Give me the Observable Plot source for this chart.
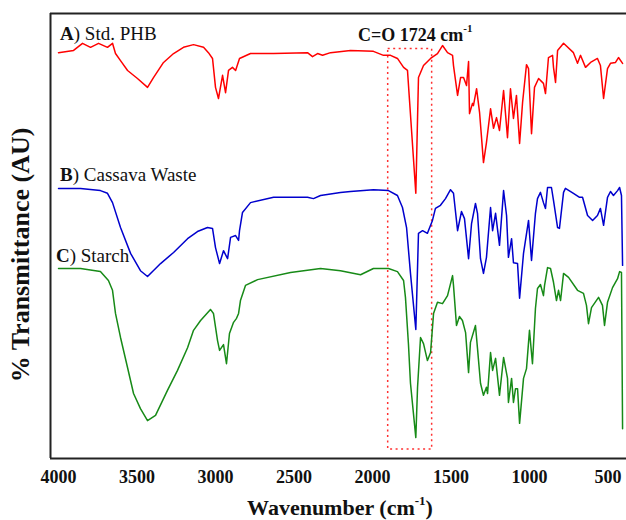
<!DOCTYPE html>
<html><head><meta charset="utf-8">
<script src="https://cdn.jsdelivr.net/npm/d3@7"></script>
<script src="https://cdn.jsdelivr.net/npm/@observablehq/plot@0.6"></script>
<style>body{margin:0;background:#fff;} #chart svg{display:block;background:#fff;}</style>
</head><body><div id="chart"></div>
<script>
// A) Std. PHB
const wnA = [4000,3904,3847,3796,3745,3688,3656,3637,3605,3560,3497,3433,3395,3331,3267,3204,3140,3076,3045,3019,3000,2981,2955,2936,2917,2892,2872,2847,2777,2630,2414,2382,2350,2318,2267,2140,1994,1930,1885,1841,1802,1777,1764,1724,1707,1675,1630,1586,1554,1522,1490,1484,1458,1439,1420,1401,1388,1382,1363,1357,1337,1318,1293,1274,1248,1229,1210,1191,1165,1140,1121,1102,1083,1063,1044,1019,1006,987,968,942,911,898,879,853,847,834,821,783,720,694,675,643,611,567,548,528,503,484,452,433,407];
const tA  = [91.2,91.7,93.3,92.4,93.3,92.4,93.3,91.0,89.4,87.2,85.4,83.4,85.6,89.0,91.0,92.4,93.0,92.4,91.2,89.9,83.4,80.9,86.1,82.2,87.2,87.9,87.2,89.9,91.0,91.0,91.2,90.3,91.0,90.6,91.2,91.7,91.5,90.6,90.6,89.9,87.9,87.2,80.4,59.6,85.6,88.3,89.9,91.0,92.8,91.2,90.6,88.3,81.6,85.6,85.6,83.8,89.2,77.5,79.8,79.3,83.1,77.8,66.5,71.0,78.6,74.2,76.6,73.7,82.7,72.1,83.1,76.4,81.6,70.8,80.0,88.5,87.6,73.0,83.4,85.4,84.3,82.0,90.1,90.6,87.9,84.5,91.7,93.3,91.2,88.8,90.6,87.9,89.0,89.9,88.3,80.9,87.6,88.8,89.0,90.1,88.8];
// B) Cassava Waste
const wnB = [4000,3860,3733,3688,3656,3605,3541,3478,3433,3350,3267,3178,3115,3051,3019,3000,2974,2949,2923,2904,2872,2853,2847,2828,2777,2630,2414,2376,2331,2204,2140,1994,1898,1841,1809,1783,1758,1724,1707,1681,1650,1618,1599,1567,1535,1503,1484,1458,1433,1414,1388,1369,1344,1331,1312,1293,1274,1248,1235,1216,1191,1165,1146,1134,1114,1102,1076,1063,1038,1006,987,962,949,930,911,898,885,860,847,821,809,783,771,720,681,662,630,598,567,548,528,503,484,465,439,426,414,407];
const tB  = [60.7,60.7,60.2,59.6,57.5,51.9,46.1,42.2,40.9,43.8,46.3,49.4,51.0,51.9,51.7,47.4,43.8,46.7,44.9,49.7,50.1,49.0,51.2,55.3,57.5,58.7,58.7,58.4,59.1,59.8,60.0,60.4,60.2,59.1,56.4,51.9,41.6,29.0,50.6,51.2,50.6,53.5,56.2,56.9,58.4,60.4,59.6,51.2,55.5,53.9,44.9,52.8,57.3,55.1,44.9,41.6,45.2,56.4,51.2,55.1,47.9,60.2,54.6,45.2,49.4,44.0,43.8,36.0,46.1,53.5,44.5,55.1,58.4,59.8,57.5,56.2,60.9,60.9,58.0,51.9,51.7,59.8,60.7,59.6,58.7,58.7,54.6,53.5,54.6,56.2,52.4,58.7,60.0,59.1,60.2,60.9,59.1,43.4];
// C) Starch
const wnC = [4000,3860,3733,3682,3656,3637,3605,3560,3522,3478,3433,3382,3306,3242,3178,3140,3095,3032,3013,2987,2974,2949,2930,2911,2885,2866,2853,2841,2809,2732,2522,2331,2204,2076,1994,1898,1841,1802,1790,1771,1758,1724,1713,1694,1675,1650,1630,1611,1586,1554,1522,1490,1484,1465,1446,1427,1407,1388,1376,1344,1331,1312,1293,1274,1267,1248,1235,1216,1191,1165,1140,1134,1114,1102,1089,1076,1063,1038,1019,1000,981,962,949,930,911,904,885,866,847,828,815,802,783,751,694,656,637,624,605,560,535,522,503,471,439,426,414,407];
const tC  = [42.7,42.7,42.0,40.0,37.8,32.6,27.2,20.4,14.6,11.2,8.5,9.7,15.3,19.8,24.9,28.8,31.0,33.5,32.6,26.5,24.3,25.6,21.3,28.1,30.6,31.5,32.6,35.5,38.9,40.2,41.8,42.7,42.2,41.3,42.7,42.7,42.0,40.0,36.2,25.8,16.9,4.7,16.0,27.2,25.8,22.0,23.8,32.6,35.1,34.8,36.6,41.1,38.9,29.9,31.9,31.0,28.3,19.3,26.1,29.9,24.7,16.9,14.2,16.0,14.6,23.8,19.8,22.5,14.2,22.7,18.0,12.6,18.0,12.6,15.7,15.7,7.9,18.0,20.2,28.8,21.3,33.7,38.2,39.1,36.6,38.9,42.9,42.7,39.6,35.5,37.8,35.5,41.6,40.7,37.8,37.1,34.4,30.3,33.9,36.2,34.4,29.9,35.1,38.4,40.4,42.0,41.8,6.7];

const seriesNames = ["A", "B", "C"];
const seriesLabels = ["Std. PHB", "Cassava Waste", "Starch"];
const seriesColors = ["#ff0000", "#0000cd", "#178a17"];
const labelWn = [3987, 3987, 4013];
const labelT = [93.9, 62.2, 44.0];

const tickValues = [4000, 3500, 3000, 2500, 2000, 1500, 1000, 500];
const xDomain = [4051, 382];
const yDomain = [0, 100];

const boxWn = [1900, 1620];
const boxT = [2, 92];
const peakWn = 2089, peakT = 93.7;

const rows = [];
[[wnA, tA], [wnB, tB], [wnC, tC]].forEach(([w, t], k) => {
  w.forEach((v, i) => rows.push({series: seriesNames[k], wn: v, t: t[i]}));
});

const serif = "'Liberation Serif', 'Times New Roman', serif";

const plot = Plot.plot({
  width: 626, height: 520,
  marginLeft: 50, marginRight: 0, marginTop: 13, marginBottom: 62,
  style: {fontFamily: serif, background: "#fff"},
  x: {domain: xDomain},
  y: {domain: yDomain, axis: null},
  color: {domain: seriesNames, range: seriesColors},
  marks: [
    Plot.rect([{x1: boxWn[0], x2: boxWn[1], y1: boxT[0], y2: boxT[1]}],
      {x1: "x1", x2: "x2", y1: "y1", y2: "y2", fill: "none", stroke: "#ff3030", strokeWidth: 1.5, strokeDasharray: "2,3.5"}),
    Plot.line(rows, {x: "wn", y: "t", z: "series", stroke: "series", strokeWidth: 1.5}),
    Plot.ruleY(yDomain, {stroke: "#222", strokeWidth: 2}),
    Plot.ruleX([xDomain[0]], {stroke: "#222", strokeWidth: 2}),
    Plot.axisX(tickValues, {tickSize: 0, tickPadding: 12, fontSize: 18, fontWeight: "bold", fontFamily: serif, fill: "#111", label: null, tickFormat: d => String(d)})
  ]
});

document.getElementById("chart").appendChild(plot);

const svg = d3.select(plot);
const sx = plot.scale("x"), sy = plot.scale("y");

// series labels
seriesNames.forEach((n, i) => {
  const t = svg.append("text")
    .attr("x", sx.apply(labelWn[i])).attr("y", sy.apply(labelT[i]))
    .attr("text-anchor", "start")
    .attr("font-family", serif).attr("font-size", 19).attr("fill", "#111");
  t.append("tspan").attr("font-weight", "bold").text(n);
  t.append("tspan").text(") " + seriesLabels[i]);
});

// C=O annotation
{
  const t = svg.append("text")
    .attr("x", sx.apply(peakWn)).attr("y", sy.apply(peakT))
    .attr("text-anchor", "start")
    .attr("font-family", serif).attr("font-size", 18).attr("font-weight", "bold").attr("fill", "#111");
  t.append("tspan").text("C=O 1724 cm");
  t.append("tspan").attr("font-size", 11).attr("dy", -9).text("-1");
}

// x title
{
  const cx = (sx.range[0] + sx.range[1]) / 2 + 2;
  const t = svg.append("text")
    .attr("x", cx).attr("y", 515).attr("text-anchor", "middle")
    .attr("font-family", serif).attr("font-size", 22).attr("font-weight", "bold").attr("fill", "#111");
  t.append("tspan").text("Wavenumber (cm");
  t.append("tspan").attr("font-size", 13).attr("dy", -10).text("-1");
  t.append("tspan").attr("dy", 10).text(")");
}

// y title
svg.append("text")
  .attr("transform", "translate(29,255) rotate(-90)")
  .attr("text-anchor", "middle")
  .attr("font-family", serif).attr("font-size", 26).attr("font-weight", "bold").attr("fill", "#111")
  .text("% Transmittance (AU)");
</script>
</body></html>
